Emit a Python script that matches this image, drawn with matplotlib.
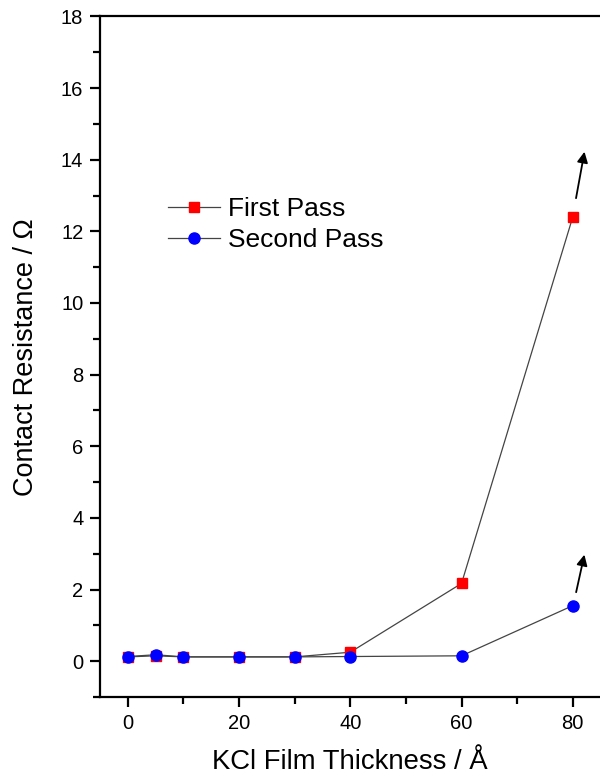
import matplotlib
matplotlib.use("Agg")
import matplotlib.pyplot as plt
from matplotlib.ticker import MultipleLocator

plt.rcParams['font.family'] = ['Liberation Sans', 'DejaVu Sans']

thickness = [0, 5, 10, 20, 30, 40, 60, 80]
first_pass = [0.12, 0.15, 0.12, 0.12, 0.12, 0.25, 2.17, 12.4]
second_pass = [0.13, 0.18, 0.12, 0.12, 0.12, 0.13, 0.15, 1.55]

fig = plt.figure(figsize=(6, 7.76), dpi=100)
ax = fig.add_axes([0.1667, 0.1018, 0.8333, 0.877])

ax.plot(thickness, first_pass, color='#444444', lw=0.9, marker='s', ms=7.4,
        mfc='red', mec='red', label='First Pass')
ax.plot(thickness, second_pass, color='#444444', lw=0.9, marker='o', ms=8,
        mfc='blue', mec='blue', label='Second Pass')

# arrows showing values keep rising off-scale
ax.annotate('', xy=(82.2, 14.3), xytext=(80.5, 12.85),
            arrowprops=dict(arrowstyle='-|>', color='black', lw=1.3, mutation_scale=16))
ax.annotate('', xy=(82.2, 3.05), xytext=(80.5, 1.85),
            arrowprops=dict(arrowstyle='-|>', color='black', lw=1.3, mutation_scale=16))

ax.set_xlim(-5, 84.9)
ax.set_ylim(-1, 18)
ax.xaxis.set_major_locator(MultipleLocator(20))
ax.xaxis.set_minor_locator(MultipleLocator(10))
ax.yaxis.set_major_locator(MultipleLocator(2))
ax.yaxis.set_minor_locator(MultipleLocator(1))
ax.set_xticks([0, 20, 40, 60, 80])

ax.spines['right'].set_visible(False)
for s in ['left', 'bottom', 'top']:
    ax.spines[s].set_linewidth(1.6)
ax.tick_params(which='major', direction='out', length=7, width=1.6, labelsize=14.5, pad=5)
ax.tick_params(which='minor', direction='out', length=5, width=1.6)
ax.tick_params(top=False, right=False, which='both')

ax.set_xlabel('KCl Film Thickness / Å', fontsize=19.8, labelpad=12)
ax.set_ylabel('Contact Resistance / Ω', fontsize=19.5, labelpad=16)

ax.legend(loc='upper left', bbox_to_anchor=(0.114, 0.75), frameon=False,
          fontsize=19, handlelength=2.0, handletextpad=0.3, labelspacing=0.25,
          borderaxespad=0)

fig.savefig('out.png', dpi=100)
